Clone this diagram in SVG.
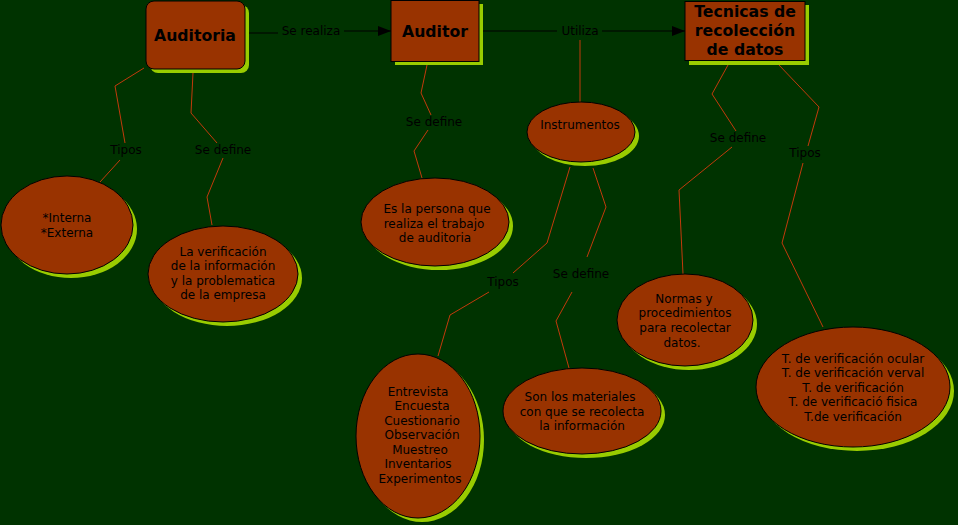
<svg xmlns="http://www.w3.org/2000/svg" width="958" height="525" viewBox="0 0 958 525">
<style>
text{font-family:"DejaVu Sans",Verdana,sans-serif;fill:#000;text-anchor:middle}
.t{font-size:12px}
.h{font-size:15.7px;font-weight:bold}
.n{fill:#993300;stroke:#000;stroke-width:1}
.s{fill:#99cc00}
.c{fill:none;stroke:#c13a0c;stroke-width:1}
.a{fill:none;stroke:#000;stroke-width:1}
.l{font-size:12px}
</style>
<defs>
<marker id="arr" markerWidth="13" markerHeight="10" refX="13" refY="5" orient="auto" markerUnits="userSpaceOnUse">
<path d="M0,0 L13,5 L0,10 Z" fill="#000"/>
</marker>
</defs>
<rect width="958" height="525" fill="#003300"/>
<g id="connectors">
<path class="a" d="M246,33 L278,33"/>
<path class="a" d="M344,31 L391,31" marker-end="url(#arr)"/>
<text class="l" x="311" y="35">Se realiza</text>
<path class="a" d="M479,31 L557,31"/>
<path class="a" d="M602,31 L685,31" marker-end="url(#arr)"/>
<text class="l" x="580" y="35">Utiliza</text>
<path class="c" d="M580,40 L580,102"/>
<path class="c" d="M144,68 L115,86 L125,143"/>
<text class="l" x="126" y="154">Tipos</text>
<path class="c" d="M120,160 L100,182"/>
<path class="c" d="M193,73 L191,113 L217,143"/>
<text class="l" x="223" y="154">Se define</text>
<path class="c" d="M223,158 L207,197 L212,225"/>
<path class="c" d="M427,65 L421,93 L431,115"/>
<text class="l" x="434" y="126">Se define</text>
<path class="c" d="M428,130 L414,151 L422,178"/>
<path class="c" d="M570,167 L547,243 L513,273"/>
<text class="l" x="503" y="286">Tipos</text>
<path class="c" d="M489,292 L450,315 L438,356"/>
<path class="c" d="M593,168 L606,207 L587,257"/>
<text class="l" x="581" y="278">Se define</text>
<path class="c" d="M572,292 L556,321 L569,368"/>
<path class="c" d="M728,65 L712,94 L736,131"/>
<text class="l" x="738" y="142">Se define</text>
<path class="c" d="M732,147 L679,190 L683,274"/>
<path class="c" d="M778,64 L819,107 L808,146"/>
<text class="l" x="805" y="157">Tipos</text>
<path class="c" d="M803,163 L782,243 L823,327"/>
</g>
<g id="auditoria">
<rect class="s" x="150" y="5" width="99" height="68" rx="8"/>
<rect class="n" x="146" y="1" width="99" height="68" rx="8"/>
<text class="h" x="195" y="41">Auditoria</text>
</g>
<g id="auditor">
<rect class="s" x="395" y="4" width="88" height="61"/>
<rect class="n" x="391" y="0.5" width="88" height="61"/>
<text class="h" x="435" y="37">Auditor</text>
</g>
<g id="tecnicas">
<rect class="s" x="689" y="5" width="120" height="60"/>
<rect class="n" x="685" y="1.5" width="120" height="59"/>
<text class="h" x="745" y="17">Tecnicas de</text>
<text class="h" x="745" y="36">recolección</text>
<text class="h" x="745" y="55">de datos</text>
</g>
<g id="instrumentos">
<ellipse class="s" cx="585" cy="136" rx="54" ry="30"/>
<ellipse class="n" cx="581" cy="132" rx="54" ry="30"/>
<text class="t" x="580" y="129">Instrumentos</text>
</g>
<g id="tipos-auditoria">
<ellipse class="s" cx="71" cy="229" rx="66" ry="49"/>
<ellipse class="n" cx="67" cy="225" rx="66" ry="49"/>
<text class="t" x="67" y="222">*Interna</text>
<text class="t" x="67" y="237">*Externa</text>
</g>
<g id="def-auditoria">
<ellipse class="s" cx="227" cy="278" rx="75" ry="48"/>
<ellipse class="n" cx="223" cy="274" rx="75" ry="48"/>
<text class="t" x="223" y="256">La verificación</text>
<text class="t" x="223" y="270">de la información</text>
<text class="t" x="223" y="285">y la problematica</text>
<text class="t" x="223" y="299">de la empresa</text>
</g>
<g id="def-auditor">
<ellipse class="s" cx="439" cy="226" rx="74" ry="44"/>
<ellipse class="n" cx="435" cy="222" rx="74" ry="44"/>
<text class="t" x="437" y="213">Es la persona que</text>
<text class="t" x="434" y="228">realiza el trabajo</text>
<text class="t" x="435" y="242">de auditoria</text>
</g>
<g id="tipos-instrumentos">
<ellipse class="s" cx="422" cy="440" rx="62" ry="82"/>
<ellipse class="n" cx="418" cy="436" rx="62" ry="82"/>
<text class="t" x="418" y="396">Entrevista</text>
<text class="t" x="422" y="410">Encuesta</text>
<text class="t" x="422" y="425">Cuestionario</text>
<text class="t" x="422" y="439">Observación</text>
<text class="t" x="420" y="454">Muestreo</text>
<text class="t" x="418" y="468">Inventarios</text>
<text class="t" x="420" y="483">Experimentos</text>
</g>
<g id="def-instrumentos">
<ellipse class="s" cx="586" cy="415" rx="79" ry="43"/>
<ellipse class="n" cx="582" cy="411" rx="79" ry="43"/>
<text class="t" x="580" y="401">Son los materiales</text>
<text class="t" x="582" y="416">con que se recolecta</text>
<text class="t" x="582" y="430">la información</text>
</g>
<g id="def-tecnicas">
<ellipse class="s" cx="689" cy="324" rx="68" ry="46"/>
<ellipse class="n" cx="685" cy="320" rx="68" ry="46"/>
<text class="t" x="684" y="303">Normas y</text>
<text class="t" x="685" y="317">procedimientos</text>
<text class="t" x="685" y="332">para recolectar</text>
<text class="t" x="682" y="347">datos.</text>
</g>
<g id="tipos-tecnicas">
<ellipse class="s" cx="857" cy="391" rx="97" ry="60"/>
<ellipse class="n" cx="853" cy="387" rx="97" ry="60"/>
<text class="t" x="853" y="363">T. de verificación ocular</text>
<text class="t" x="853" y="377">T. de verificación verval</text>
<text class="t" x="853" y="392">T. de verificación</text>
<text class="t" x="853" y="406">T. de verificació fisica</text>
<text class="t" x="853" y="421">T.de verificación</text>
</g>
</svg>
